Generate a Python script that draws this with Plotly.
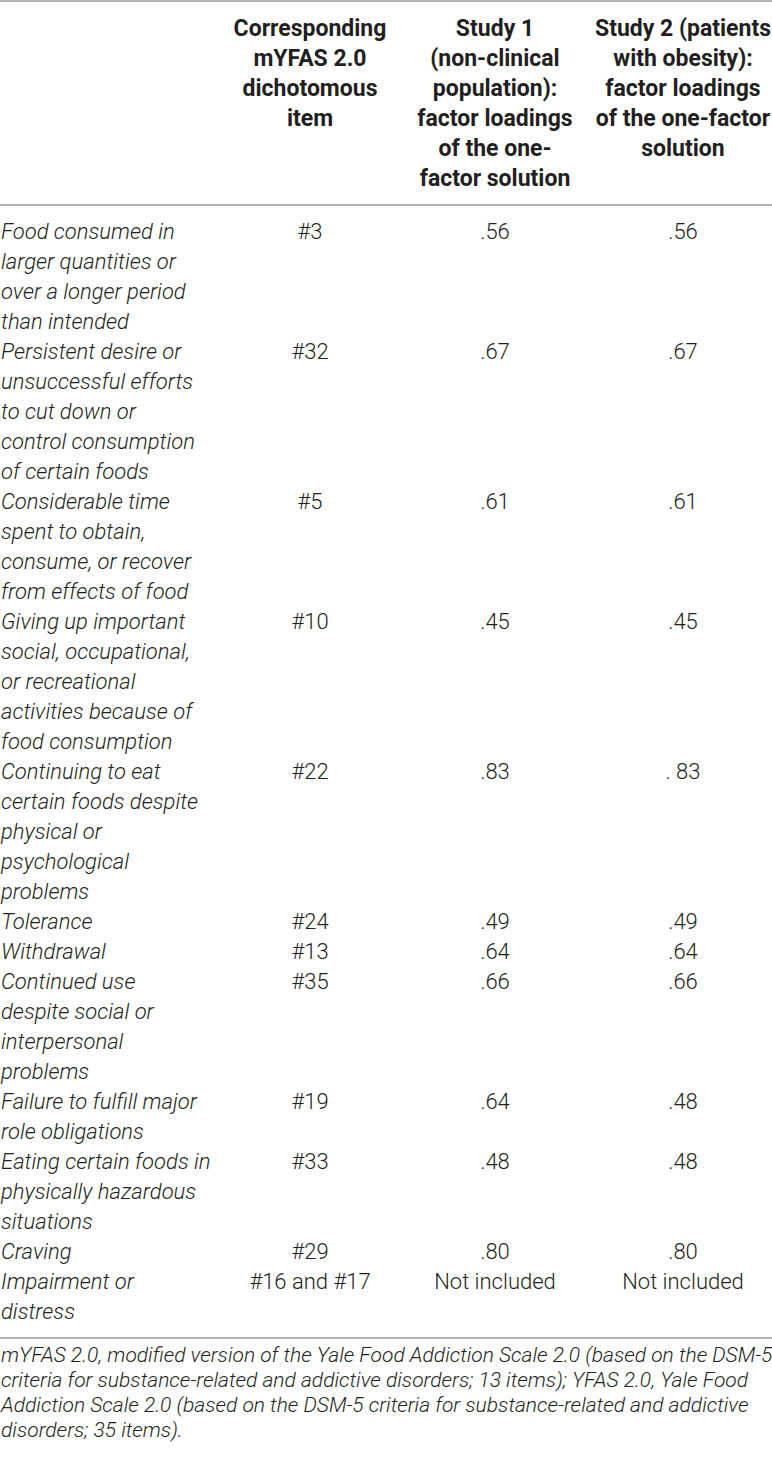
import plotly.graph_objects as go

# table content
criteria = [
    ["Food consumed in", "larger quantities or", "over a longer period", "than intended"],
    ["Persistent desire or", "unsuccessful efforts", "to cut down or", "control consumption", "of certain foods"],
    ["Considerable time", "spent to obtain,", "consume, or recover", "from effects of food"],
    ["Giving up important", "social, occupational,", "or recreational", "activities because of", "food consumption"],
    ["Continuing to eat", "certain foods despite", "physical or", "psychological", "problems"],
    ["Tolerance"],
    ["Withdrawal"],
    ["Continued use", "despite social or", "interpersonal", "problems"],
    ["Failure to fulfill major", "role obligations"],
    ["Eating certain foods in", "physically hazardous", "situations"],
    ["Craving"],
    ["Impairment or", "distress"],
]
items = ["#3", "#32", "#5", "#10", "#22", "#24", "#13", "#35", "#19", "#33", "#29", "#16 and #17"]
study1 = [".56", ".67", ".61", ".45", ".83", ".49", ".64", ".66", ".64", ".48", ".80", "Not included"]
study2 = [".56", ".67", ".61", ".45", ". 83", ".49", ".64", ".66", ".48", ".48", ".80", "Not included"]

headers = [
    ["Corresponding", "mYFAS 2.0", "dichotomous", "item"],
    ["Study 1", "(non-clinical", "population):", "factor loadings", "of the one-", "factor solution"],
    ["Study 2 (patients", "with obesity):", "factor loadings", "of the one-factor", "solution"],
]
footnote = [
    "mYFAS 2.0, modified version of the Yale Food Addiction Scale 2.0 (based on the DSM-5",
    "criteria for substance-related and addictive disorders; 13 items); YFAS 2.0, Yale Food",
    "Addiction Scale 2.0 (based on the DSM-5 criteria for substance-related and addictive",
    "disorders; 35 items).",
]

W, H = 772, 1457
FONT = "Roboto, Liberation Sans, Arial, sans-serif"
INK = "#231f20"
col_x = [310, 495, 683]
line_h = 30
body_top = 233

fig = go.Figure()

# header
hx, hy, ht = [], [], []
for cx, lines in zip(col_x, headers):
    for i, s in enumerate(lines):
        hx.append(cx)
        hy.append(30 + i * line_h)
        ht.append(s)
fig.add_trace(go.Scatter(x=hx, y=hy, text=ht, mode="text", textposition="middle center",
                         textfont=dict(family=FONT, size=23, color=INK, weight=700)))

# body
lx, ly, lt = [], [], []
vx, vy, vt = [], [], []
row = 0
for crit, it, s1, s2 in zip(criteria, items, study1, study2):
    y0 = body_top + row * line_h
    for i, s in enumerate(crit):
        lx.append(1)
        ly.append(y0 + i * line_h)
        lt.append(s)
    for cx, v in zip(col_x, [it, s1, s2]):
        vx.append(cx)
        vy.append(y0)
        vt.append(v)
    row += len(crit)

fig.add_trace(go.Scatter(x=lx, y=ly, text=lt, mode="text", textposition="middle right",
                         textfont=dict(family=FONT, size=22, color=INK, style="italic", weight=300)))
fig.add_trace(go.Scatter(x=vx, y=vy, text=vt, mode="text", textposition="middle center",
                         textfont=dict(family=FONT, size=22, color=INK, weight=300)))

# footnote
fig.add_trace(go.Scatter(x=[1] * len(footnote), y=[1357 + i * 25 for i in range(len(footnote))],
                         text=footnote, mode="text", textposition="middle right",
                         textfont=dict(family=FONT, size=21, color=INK, style="italic", weight=300)))

# rules
for yl in [1, 205, 1338]:
    fig.add_shape(type="line", x0=0, x1=W, y0=yl, y1=yl, line=dict(color="#9a9a9a", width=1.5))

fig.update_layout(
    width=W, height=H, margin=dict(l=0, r=0, t=0, b=0),
    paper_bgcolor="white", plot_bgcolor="white", showlegend=False,
    xaxis=dict(range=[0, W], visible=False, fixedrange=True),
    yaxis=dict(range=[H, 0], visible=False, fixedrange=True),
)
fig.write_html("out.html", config={"displayModeBar": False},
               post_script="document.body.style.margin='0';")
